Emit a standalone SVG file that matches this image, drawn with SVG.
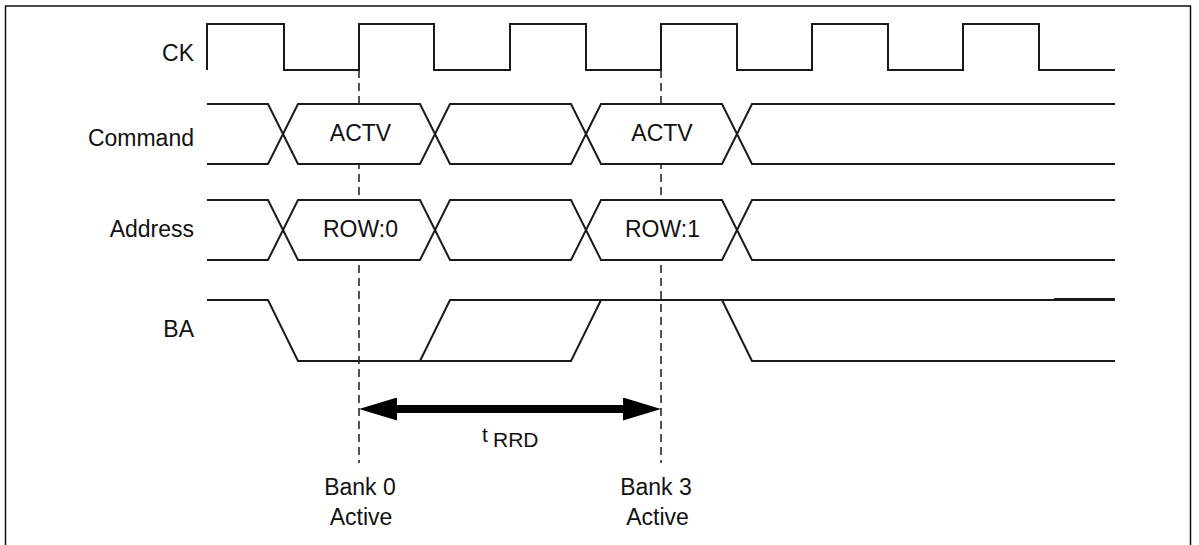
<svg xmlns="http://www.w3.org/2000/svg" width="1199" height="545" viewBox="0 0 1199 545">
  <style>
    .sig { fill: none; stroke: #1a1a1a; stroke-width: 2; }
    .lbl { font-family: "Liberation Sans", Arial, sans-serif; font-size: 23px; fill: #111; }
    .end { text-anchor: end; }
    .mid { text-anchor: middle; }
    .hex { fill: #fff; stroke: none; }
    .dash { stroke: #1a1a1a; stroke-width: 1.5; stroke-dasharray: 8 5; fill: none; }
    .arrow { stroke: #000; stroke-width: 8; fill: none; }
  </style>
  <defs>
    <marker id="ah" markerUnits="userSpaceOnUse" markerWidth="38" markerHeight="23" viewBox="0 0 38 23" refX="0" refY="11.5" orient="auto-start-reverse">
      <path d="M0,0 L38,11.5 L0,23 z" fill="#000"/>
    </marker>
  </defs>
  <rect x="0" y="0" width="1199" height="545" fill="#fff"/>
  <rect x="5.5" y="6" width="1185" height="560" fill="none" stroke="#111" stroke-width="1.5"/>

  <g id="connectors">
    <line class="dash" x1="359" y1="70" x2="359" y2="463"/>
    <line class="dash" x1="661" y1="70" x2="661" y2="463"/>
    <line class="arrow" x1="397" y1="409" x2="623" y2="409" marker-start="url(#ah)" marker-end="url(#ah)"/>
  </g>

  <g id="ck">
    <text class="lbl end" x="194" y="61">CK</text>
    <path class="sig" d="M207,70 V24 H284 V70 H359 V24 H434 V70 H510 V24 H586 V70 H661 V24 H737 V70 H812 V24 H888 V70 H963 V24 H1039 V70 H1115"/>
  </g>

  <g id="command">
    <text class="lbl end" x="194" y="146">Command</text>
    <polygon class="hex" points="283,134 298,104 420,104 435,134 420,164 298,164"/>
    <polygon class="hex" points="586,134 601,104 722,104 737,134 722,164 601,164"/>
    <path class="sig" d="M207,104 H268 L298,164 H420 L450,104 H571 L601,164 H722 L752,104 H1115"/>
    <path class="sig" d="M207,164 H268 L298,104 H420 L450,164 H571 L601,104 H722 L752,164 H1115"/>
    <text class="lbl mid" x="360.5" y="141">ACTV</text>
    <text class="lbl mid" x="662" y="141">ACTV</text>
  </g>

  <g id="address">
    <text class="lbl end" x="194" y="237">Address</text>
    <polygon class="hex" points="283,230 298,200 420,200 435,230 420,260 298,260"/>
    <polygon class="hex" points="586,230 601,200 722,200 737,230 722,260 601,260"/>
    <path class="sig" d="M207,200 H268 L298,260 H420 L450,200 H571 L601,260 H722 L752,200 H1115"/>
    <path class="sig" d="M207,260 H268 L298,200 H420 L450,260 H571 L601,200 H722 L752,260 H1115"/>
    <text class="lbl mid" x="360.5" y="237">ROW:0</text>
    <text class="lbl mid" x="662.5" y="237">ROW:1</text>
  </g>

  <g id="ba">
    <text class="lbl end" x="194" y="337">BA</text>
    <path class="sig" d="M207,300 H268 L298,361 H571 L601,300"/>
    <path class="sig" d="M420,361 L450,300 H1115"/>
    <path class="sig" d="M722,300 L752,361 H1115"/>
    <path class="sig" d="M1054,299 H1115"/>
  </g>

  <g id="trrd">
    <text class="lbl" x="482" y="442" font-size="21" style="font-size:21px">t</text>
    <text class="lbl" x="493" y="447" style="font-size:21px">RRD</text>
  </g>

  <g id="bank0">
    <text class="lbl mid" x="360" y="495">Bank 0</text>
    <text class="lbl mid" x="361" y="525">Active</text>
  </g>

  <g id="bank3">
    <text class="lbl mid" x="656" y="495">Bank 3</text>
    <text class="lbl mid" x="657.5" y="525">Active</text>
  </g>
</svg>
